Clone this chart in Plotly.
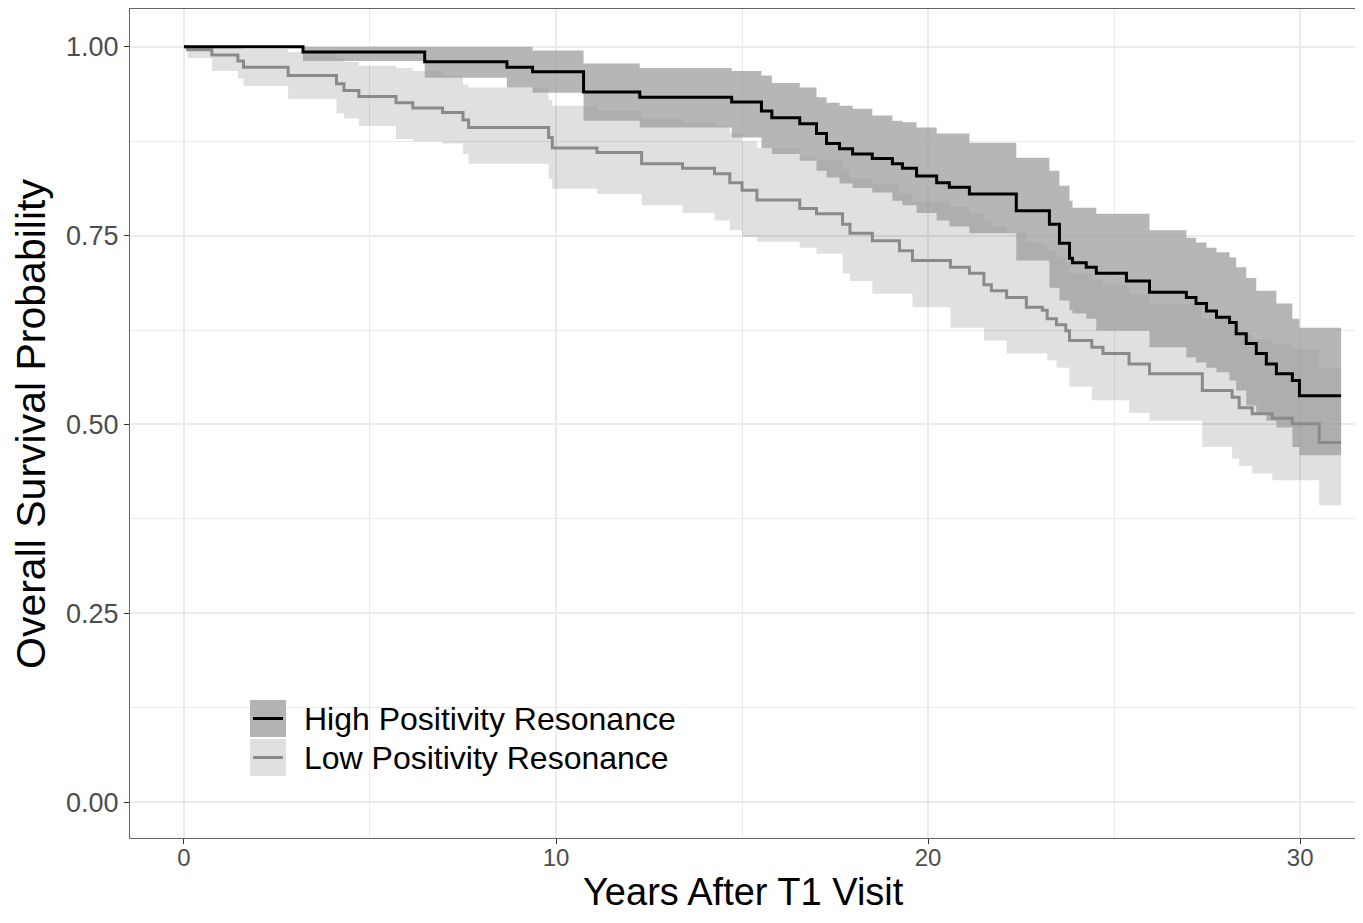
import plotly.graph_objects as go

# ---------------- data ----------------
high_t = [0, 3.2, 6.47, 8.68, 9.37, 10.74, 12.25, 14.72, 15.52, 15.8, 16.55, 17.0, 17.27, 17.62,
          17.97, 18.5, 19.04, 19.31, 19.69, 20.23, 20.57, 21.11, 22.37, 23.26, 23.53, 23.8, 23.88,
          24.25, 24.52, 25.33, 25.95, 26.94, 27.2, 27.48, 27.75, 28.1, 28.28, 28.55, 28.82, 29.09,
          29.36, 29.79, 29.98, 31.1]
high_s = [1.0, 0.993, 0.980, 0.973, 0.967, 0.940, 0.933, 0.927, 0.915, 0.906, 0.898, 0.885, 0.872,
          0.865, 0.858, 0.852, 0.845, 0.839, 0.829, 0.820, 0.814, 0.805, 0.783, 0.765, 0.740, 0.720,
          0.714, 0.708, 0.700, 0.690, 0.675, 0.668, 0.660, 0.650, 0.642, 0.635, 0.620, 0.607, 0.594,
          0.580, 0.567, 0.558, 0.538, 0.538]
high_up = [1.0, 1.0, 1.0, 1.0, 0.995, 0.978, 0.972, 0.968, 0.962, 0.952, 0.946, 0.933, 0.926, 0.922,
           0.918, 0.909, 0.902, 0.900, 0.893, 0.885, 0.885, 0.873, 0.853, 0.836, 0.816, 0.796, 0.787,
           0.787, 0.779, 0.779, 0.757, 0.747, 0.741, 0.734, 0.728, 0.721, 0.708, 0.694, 0.677, 0.677,
           0.660, 0.640, 0.628, 0.628]
high_lo = [1.0, 0.981, 0.959, 0.946, 0.939, 0.902, 0.893, 0.880, 0.866, 0.858, 0.849, 0.836, 0.827,
           0.819, 0.813, 0.807, 0.796, 0.790, 0.780, 0.770, 0.762, 0.753, 0.717, 0.681, 0.664, 0.651,
           0.647, 0.640, 0.624, 0.624, 0.602, 0.589, 0.582, 0.575, 0.569, 0.558, 0.545, 0.525, 0.515,
           0.505, 0.496, 0.470, 0.459, 0.459]

low_t = [0, 0.1, 0.75, 1.45, 1.6, 2.8, 4.1, 4.3, 4.7, 5.7, 6.15, 6.95, 7.5, 7.65, 9.8, 9.9, 11.1,
         12.3, 13.4, 14.26, 14.67, 15.0, 15.4, 16.55, 17.0, 17.7, 17.9, 18.5, 19.23, 19.58, 20.6,
         21.11, 21.5, 21.7, 22.11, 22.64, 23.07, 23.2, 23.45, 23.7, 23.8, 24.4, 24.7, 25.4, 25.95,
         27.37, 28.17, 28.36, 28.71, 29.25, 29.79, 30.51, 31.1]
low_s = [1.0, 0.996, 0.989, 0.981, 0.973, 0.962, 0.951, 0.942, 0.934, 0.926, 0.919, 0.913, 0.903,
         0.893, 0.880, 0.866, 0.860, 0.845, 0.839, 0.832, 0.820, 0.810, 0.797, 0.786, 0.779, 0.765,
         0.753, 0.743, 0.730, 0.717, 0.708, 0.700, 0.685, 0.677, 0.668, 0.655, 0.651, 0.640, 0.632,
         0.624, 0.611, 0.602, 0.594, 0.580, 0.567, 0.545, 0.536, 0.522, 0.514, 0.508, 0.501, 0.476,
         0.476]
low_up = [1.0, 1.0, 1.0, 0.998, 0.997, 0.993, 0.985, 0.980, 0.975, 0.972, 0.968, 0.962, 0.950,
          0.946, 0.930, 0.922, 0.915, 0.905, 0.900, 0.895, 0.885, 0.875, 0.866, 0.855, 0.850, 0.838,
          0.826, 0.818, 0.806, 0.795, 0.788, 0.780, 0.770, 0.762, 0.754, 0.742, 0.738, 0.730, 0.722,
          0.714, 0.700, 0.692, 0.685, 0.672, 0.660, 0.640, 0.632, 0.620, 0.612, 0.606, 0.600, 0.575,
          0.575]
low_lo = [1.0, 0.985, 0.968, 0.958, 0.948, 0.931, 0.912, 0.905, 0.895, 0.878, 0.875, 0.872, 0.858,
          0.845, 0.825, 0.812, 0.805, 0.790, 0.780, 0.770, 0.757, 0.748, 0.742, 0.734, 0.726, 0.700,
          0.690, 0.673, 0.673, 0.655, 0.628, 0.628, 0.611, 0.611, 0.594, 0.594, 0.594, 0.585, 0.575,
          0.575, 0.550, 0.532, 0.532, 0.515, 0.505, 0.470, 0.455, 0.445, 0.435, 0.426, 0.426, 0.393,
          0.393]

group_names = ["High Positivity Resonance", "Low Positivity Resonance"]
x_ticks = [0, 10, 20, 30]
y_ticks = [0.0, 0.25, 0.5, 0.75, 1.0]
y_tick_labels = ["0.00", "0.25", "0.50", "0.75", "1.00"]

# ---------------- styles ----------------
LIGHT_FILL = "rgba(0,0,0,0.12)"
DARK_FILL = "rgba(156,156,156,0.74)"
HIGH_LINE = "#000000"
LOW_LINE = "#8a8a8a"
FONT = "Liberation Sans, Arial, Helvetica, sans-serif"

fig = go.Figure()

# low band (drawn first)
fig.add_trace(go.Scatter(x=low_t, y=low_lo, mode="lines", line=dict(width=0, shape="hv"),
                         showlegend=False, hoverinfo="skip"))
fig.add_trace(go.Scatter(x=low_t, y=low_up, mode="lines", line=dict(width=0, shape="hv"),
                         fill="tonexty", fillcolor=LIGHT_FILL, showlegend=False, hoverinfo="skip"))
# high band
fig.add_trace(go.Scatter(x=high_t, y=high_lo, mode="lines", line=dict(width=0, shape="hv"),
                         showlegend=False, hoverinfo="skip"))
fig.add_trace(go.Scatter(x=high_t, y=high_up, mode="lines", line=dict(width=0, shape="hv"),
                         fill="tonexty", fillcolor=DARK_FILL, showlegend=False, hoverinfo="skip"))
# survival curves
fig.add_trace(go.Scatter(x=low_t, y=low_s, mode="lines", name=group_names[1],
                         line=dict(color=LOW_LINE, width=3, shape="hv"), showlegend=False))
fig.add_trace(go.Scatter(x=high_t, y=high_s, mode="lines", name=group_names[0],
                         line=dict(color=HIGH_LINE, width=3, shape="hv"), showlegend=False))

# ---------------- layout ----------------
# The page body has an 8px margin, so figure coords = screen coords - OFF
OFF = 8
W, H = 1349, 907
ML, MR, MT, MB = 130 - OFF, 1, 1, 77
PW, PH = W - ML - MR, H - MT - MB


def px(xs):
    # screen x -> paper
    return (xs - OFF - ML) / PW


def py(ys):
    # screen y -> paper
    return (H - MB - (ys - OFF)) / PH


shapes = []
annotations = []
# manual ggplot-like legend
key_fills = ["#b3b3b3", "#e0e0e0"]
key_lines = [HIGH_LINE, LOW_LINE]
key_tops = [700, 739]
for i in range(2):
    top = key_tops[i]
    shapes.append(dict(type="rect", xref="paper", yref="paper", x0=px(250), x1=px(286),
                       y0=py(top + 37), y1=py(top), fillcolor=key_fills[i], line=dict(width=0),
                       layer="above"))
    shapes.append(dict(type="line", xref="paper", yref="paper", x0=px(253), x1=px(283),
                       y0=py(top + 18.5), y1=py(top + 18.5), line=dict(color=key_lines[i], width=3),
                       layer="above"))
    annotations.append(dict(text=group_names[i], xref="paper", yref="paper", x=px(302),
                            y=py(top + 19), xanchor="left", yanchor="middle", showarrow=False,
                            font=dict(size=32, color="#000000", family=FONT)))

annotations.append(dict(text="Overall Survival Probability", xref="paper", yref="paper",
                        x=px(31), y=py(424), textangle=-90, showarrow=False,
                        xanchor="center", yanchor="middle",
                        font=dict(size=41, color="#000000", family=FONT)))
annotations.append(dict(text="Years After T1 Visit", xref="paper", yref="paper",
                        x=px(743), y=py(892), showarrow=False, xanchor="center", yanchor="middle",
                        font=dict(size=38, color="#000000", family=FONT)))

fig.update_layout(
    width=W, height=H,
    margin=dict(l=ML, r=MR, t=MT, b=MB, pad=0, autoexpand=False),
    paper_bgcolor="white", plot_bgcolor="white",
    font=dict(family=FONT),
    shapes=shapes, annotations=annotations,
    showlegend=False,
)
fig.update_xaxes(
    range=[-1.45, 31.5], tickvals=x_ticks, ticktext=[str(v) for v in x_ticks],
    showgrid=True, gridcolor="#ebebeb", gridwidth=1.6,
    minor=dict(dtick=5, showgrid=True, gridcolor="#ebebeb", gridwidth=0.8, tick0=0),
    ticks="outside", ticklen=5, tickwidth=1.2, tickcolor="#333333",
    tickfont=dict(size=24, color="#4d4d4d", family=FONT),
    ticklabelstandoff=-7,
    showline=True, linecolor="#666666", linewidth=1.2, mirror=True, zeroline=False,
)
fig.update_yaxes(
    range=[-0.0476, 1.050], tickvals=y_ticks, ticktext=y_tick_labels,
    showgrid=True, gridcolor="#ebebeb", gridwidth=1.6,
    minor=dict(dtick=0.125, showgrid=True, gridcolor="#ebebeb", gridwidth=0.8, tick0=0),
    ticks="outside", ticklen=5, tickwidth=1.2, tickcolor="#333333",
    tickfont=dict(size=27, color="#4d4d4d", family=FONT),
    showline=True, linecolor="#666666", linewidth=1.2, mirror=True, zeroline=False,
)

fig.write_html("out.html")
